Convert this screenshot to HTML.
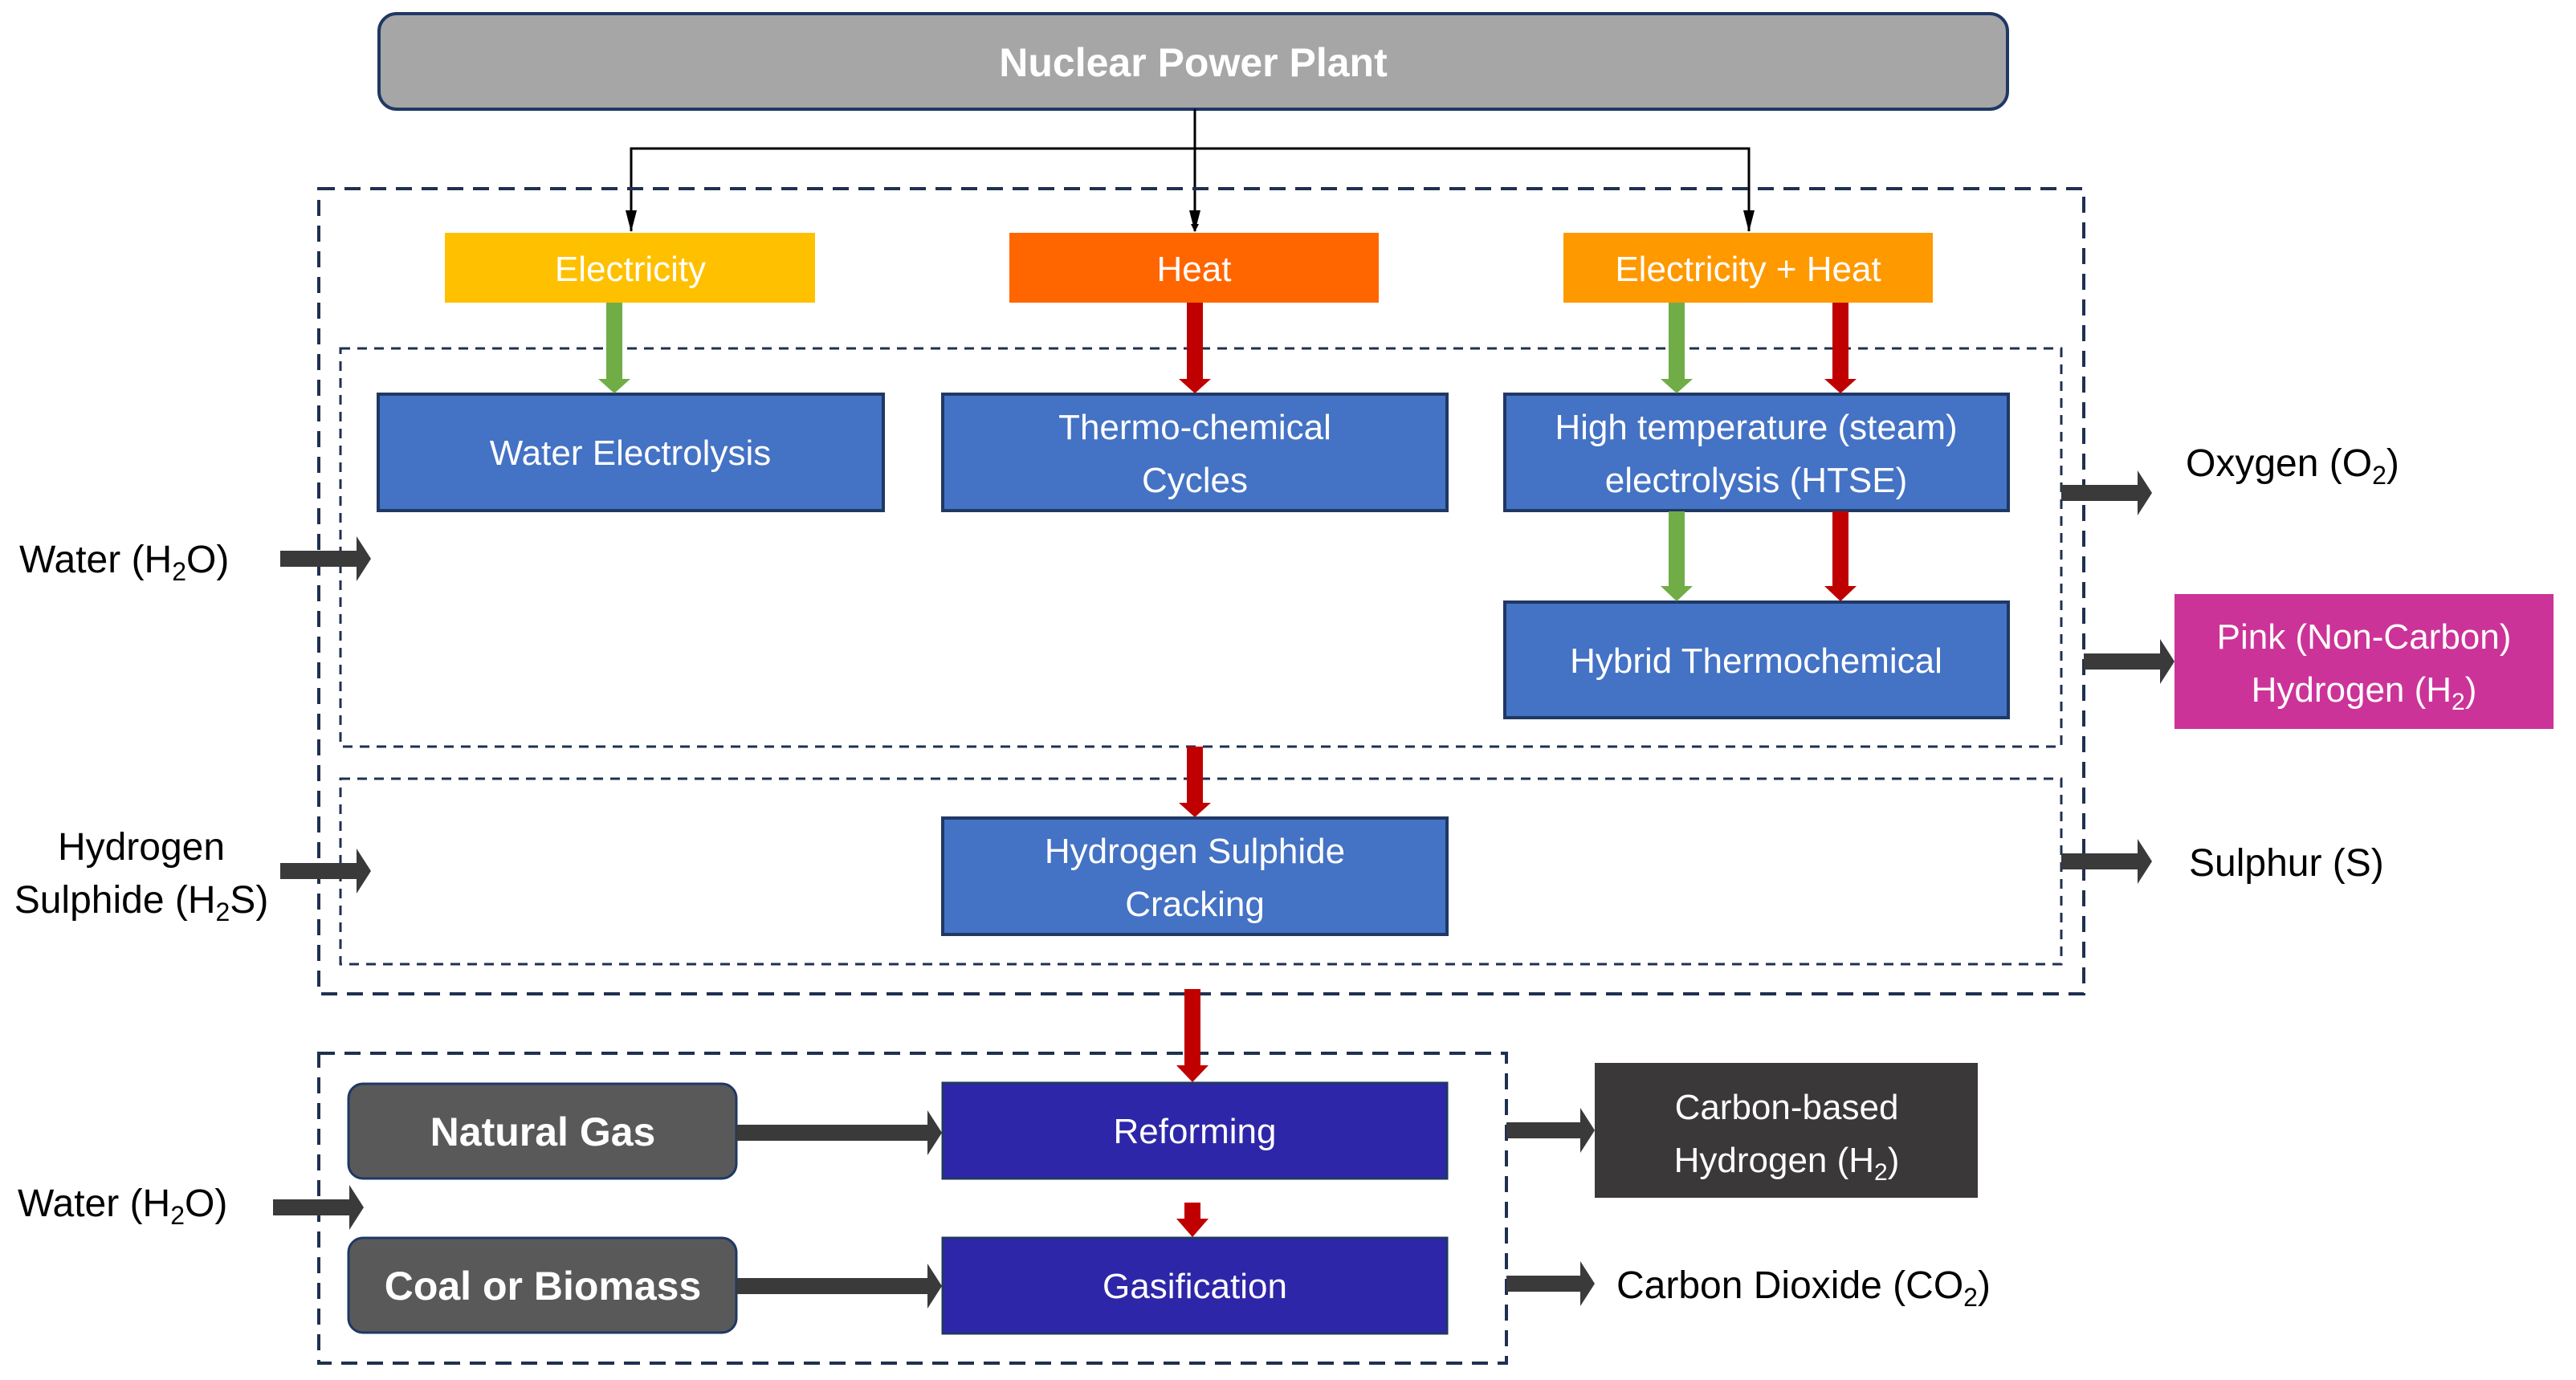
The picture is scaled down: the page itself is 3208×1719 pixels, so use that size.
<!DOCTYPE html>
<html><head><meta charset="utf-8"><style>
html,body{margin:0;padding:0;background:#fff;}
svg{display:block;}
text{font-family:"Liberation Sans",sans-serif;}
</style></head><body>
<svg width="3208" height="1719" viewBox="0 0 3208 1719" xmlns="http://www.w3.org/2000/svg">
<defs>
<marker id="ah" markerWidth="10" markerHeight="10" refX="9" refY="5" orient="auto" markerUnits="userSpaceOnUse"><path d="M0,0 L10,5 L0,10 Z" fill="#000"/></marker>
</defs>
<rect x="472" y="17" width="2028" height="119" rx="22" fill="#a6a6a6" stroke="#1f3864" stroke-width="4"/>
<text x="1486" y="95" font-size="50" font-weight="bold" fill="#fff" text-anchor="middle">Nuclear Power Plant</text>
<g stroke="#000" stroke-width="3" fill="none">
<line x1="1488" y1="136" x2="1488" y2="288" marker-end="url(#ah)"/>
<polyline points="786,288 786,185 2178,185 2178,288" fill="none"/>
</g>
<path d="M779,262 L786,289 L793,262 Z M2171,262 L2178,289 L2185,262 Z M1481,262 L1488,289 L1495,262Z" fill="#000"/>
<rect x="397" y="235" width="2198" height="1003" fill="none" stroke="#1f3050" stroke-width="4" stroke-dasharray="20,12"/>
<rect x="424" y="434" width="2143" height="496" fill="none" stroke="#1f3050" stroke-width="3" stroke-dasharray="12,9"/>
<rect x="424" y="970" width="2143" height="231" fill="none" stroke="#1f3050" stroke-width="3" stroke-dasharray="12,9"/>
<rect x="397" y="1312" width="1479" height="386" fill="none" stroke="#1f3050" stroke-width="4" stroke-dasharray="20,12"/>
<rect x="554" y="290" width="461" height="87" fill="#ffc000"/>
<text x="785" y="350" font-size="44" fill="#fff" text-anchor="middle">Electricity</text>
<rect x="1257" y="290" width="460" height="87" fill="#ff6600"/>
<text x="1487" y="350" font-size="44" fill="#fff" text-anchor="middle">Heat</text>
<rect x="1947" y="290" width="460" height="87" fill="#ff9900"/>
<text x="2177" y="350" font-size="44" fill="#fff" text-anchor="middle">Electricity + Heat</text>
<g fill="#4472c4" stroke="#1f3864" stroke-width="4">
<rect x="471" y="491" width="629" height="145"/>
<rect x="1174" y="491" width="628" height="145"/>
<rect x="1874" y="491" width="627" height="145"/>
<rect x="1874" y="750" width="627" height="144"/>
<rect x="1174" y="1019" width="628" height="145"/>
</g>
<g font-size="44" fill="#fff" text-anchor="middle">
<text x="785" y="579">Water Electrolysis</text>
<text x="1488" y="547">Thermo-chemical</text>
<text x="1488" y="613">Cycles</text>
<text x="2187" y="547">High temperature (steam)</text>
<text x="2187" y="613">electrolysis (HTSE)</text>
<text x="2187" y="838">Hybrid Thermochemical</text>
<text x="1488" y="1075">Hydrogen Sulphide</text>
<text x="1488" y="1141">Cracking</text>
</g>
<rect x="434" y="1350" width="483" height="118" rx="18" fill="#595959" stroke="#1f3864" stroke-width="3"/>
<rect x="434" y="1542" width="483" height="118" rx="18" fill="#595959" stroke="#1f3864" stroke-width="3"/>
<text x="676" y="1427" font-size="50" font-weight="bold" fill="#fff" text-anchor="middle">Natural Gas</text>
<text x="676" y="1619" font-size="50" font-weight="bold" fill="#fff" text-anchor="middle">Coal or Biomass</text>
<rect x="1174" y="1349" width="628" height="119" fill="#2e26a8" stroke="#1f3864" stroke-width="3"/>
<rect x="1174" y="1542" width="628" height="119" fill="#2e26a8" stroke="#1f3864" stroke-width="3"/>
<text x="1488" y="1424" font-size="44" fill="#fff" text-anchor="middle">Reforming</text>
<text x="1488" y="1617" font-size="44" fill="#fff" text-anchor="middle">Gasification</text>
<rect x="1986" y="1324" width="477" height="168" fill="#3a3838"/>
<text x="2225" y="1394" font-size="44" fill="#fff" text-anchor="middle">Carbon-based</text>
<text x="2225" y="1460" font-size="44" fill="#fff" text-anchor="middle">Hydrogen (H<tspan font-size="30" dy="10">2</tspan><tspan dy="-10">)</tspan></text>
<rect x="2708" y="740" width="472" height="168" fill="#cc3399"/>
<text x="2944" y="808" font-size="44" fill="#fff" text-anchor="middle">Pink (Non-Carbon)</text>
<text x="2944" y="874" font-size="44" fill="#fff" text-anchor="middle">Hydrogen (H<tspan font-size="30" dy="10">2</tspan><tspan dy="-10">)</tspan></text>
<g fill="#70ad47">
<path d="M755,377 h20 v95 h10 l-20,18 l-20,-18 h10z"/>
<path d="M2078,377 h20 v95 h10 l-20,18 l-20,-18 h10z"/>
<path d="M2078,637 h20 v93 h10 l-20,19 l-20,-19 h10z"/>
</g>
<g fill="#c00000">
<path d="M1478,377 h20 v95 h10 l-20,18 l-20,-18 h10z"/>
<path d="M2282,377 h20 v95 h10 l-20,18 l-20,-18 h10z"/>
<path d="M2282,637 h20 v93 h10 l-20,19 l-20,-19 h10z"/>
<path d="M1478,930 h20 v70 h10 l-20,18 l-20,-18 h10z"/>
<path d="M1475,1232 h20 v95 h10 l-20,21 l-20,-21 h10z"/>
<path d="M1475,1498 h20 v20 h10 l-20,23 l-20,-23 h10z"/>
</g>
<g fill="#3a3a3a">
<path d="M349,686 h95 v-18 l18,28 l-18,28 v-18 h-95z"/>
<path d="M349,1075 h95 v-18 l18,28 l-18,28 v-18 h-95z"/>
<path d="M340,1494 h95 v-18 l18,28 l-18,28 v-18 h-95z"/>
<path d="M2567,604 h95 v-18 l18,28 l-18,28 v-18 h-95z"/>
<path d="M2595,814 h95 v-18 l18,28 l-18,28 v-18 h-95z"/>
<path d="M2567,1063 h95 v-18 l18,28 l-18,28 v-18 h-95z"/>
<path d="M917,1401 h238 v-18 l18,28 l-18,28 v-18 h-238z"/>
<path d="M917,1592 h238 v-18 l18,28 l-18,28 v-18 h-238z"/>
<path d="M1876,1398 h92 v-18 l18,28 l-18,28 v-18 h-92z"/>
<path d="M1876,1589 h92 v-18 l18,28 l-18,28 v-18 h-92z"/>
</g>
<g font-size="48" fill="#000">
<text x="24" y="713">Water (H<tspan font-size="32" dy="10">2</tspan><tspan dy="-10">O)</tspan></text>
<text x="176" y="1071" text-anchor="middle">Hydrogen</text>
<text x="176" y="1137" text-anchor="middle">Sulphide (H<tspan font-size="32" dy="10">2</tspan><tspan dy="-10">S)</tspan></text>
<text x="22" y="1515">Water (H<tspan font-size="32" dy="10">2</tspan><tspan dy="-10">O)</tspan></text>
<text x="2722" y="593">Oxygen (O<tspan font-size="32" dy="10">2</tspan><tspan dy="-10">)</tspan></text>
<text x="2726" y="1091">Sulphur (S)</text>
<text x="2013" y="1617">Carbon Dioxide (CO<tspan font-size="32" dy="10">2</tspan><tspan dy="-10">)</tspan></text>
</g>
</svg>
</body></html>
